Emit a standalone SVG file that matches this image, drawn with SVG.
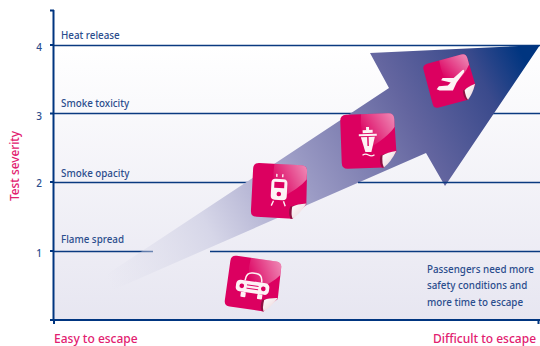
<svg xmlns="http://www.w3.org/2000/svg" xmlns:xlink="http://www.w3.org/1999/xlink" width="540" height="346" viewBox="0 0 540 346">
<style>
.grid{stroke:#0a3a80;stroke-width:1.3;fill:none}
.axis{stroke:#003580;stroke-width:2;fill:none}
.lab{font-family:"Noto Sans","Open Sans",sans-serif;font-size:9.800px;font-weight:500;fill:#2b4d8d}
.num{font-family:"Noto Sans","Open Sans",sans-serif;font-size:10px;font-weight:500;fill:#2b4d8d;text-anchor:middle}
.pink{font-family:"Noto Sans","Open Sans",sans-serif;font-size:12px;font-weight:500;fill:#e2206f}
.ico{fill:#fdf3f5}
</style>
<defs>
<linearGradient id="bg" x1="0" y1="0" x2="0" y2="1"><stop offset="0" stop-color="#fff"/><stop offset="1" stop-color="#e7e6f1"/></linearGradient>
<linearGradient id="arrow" gradientUnits="userSpaceOnUse" x1="110" y1="285" x2="530" y2="70">
<stop offset="0" stop-color="#dcdcea" stop-opacity="0"/>
<stop offset=".24" stop-color="#d6d6e8"/>
<stop offset=".475" stop-color="#9a9ac4"/>
<stop offset=".73" stop-color="#63659f"/>
<stop offset=".9" stop-color="#3a4a8c"/>
<stop offset="1" stop-color="#003580"/>
</linearGradient>
<linearGradient id="gloss" x1="0" y1="0.6" x2="1" y2="0"><stop offset="0" stop-color="#fff" stop-opacity="0"/><stop offset="1" stop-color="#fff" stop-opacity=".55"/></linearGradient>
<linearGradient id="curl" x1="0" y1="0" x2="1" y2="1"><stop offset="0" stop-color="#fff"/><stop offset="1" stop-color="#e9cfd4"/></linearGradient>
<g id="sticker">
<path d="M-27,-21Q-27,-27 -21,-27H21Q27,-27 27,-21L28,12Q20,20 15,27H-21Q-27,27 -27,21Z" fill="#dc0060"/>
<path d="M-6,-27H21Q27,-27 27,-21V-13Q20,-3 -2,9Q-8,-10 -6,-27Z" fill="url(#gloss)"/>
<path d="M28,11Q18,13 12,15Q10,22 13,27L15,27Z" fill="#8e1040"/>
<path d="M28,11Q19,12 14,15Q13,23 15,27Q22,22 28,11Z" fill="url(#curl)"/>
</g>
</defs>
<rect x="54" y="45" width="486" height="275" fill="url(#bg)"/>
<g id="connectors">
<path class="grid" d="M53,45.500H540M53,113.500H540M53,182.500H300M53,251.500H153"/>
<path d="M370,53L540,45L445,186L426,153L24,329L389,88Z" fill="url(#arrow)"/>
<path class="grid" d="M358,182.500H540M210,251.500H540"/>
<path class="axis" d="M53.500,10V320H540M50,10.500H54M50,45H54M50,113.500H54M50,182H54M50,251H54M50,320H54M54,320V324M538.500,320V324"/>
</g>
<g id="car-node" transform="translate(253,284) rotate(8) scale(.95)">
<use xlink:href="#sticker" href="#sticker"/>
<g class="ico" transform="scale(.88)">
<path d="M-10,-3Q-10,-13 -2,-13H2Q10,-13 10,-3" fill="none" stroke="#fdf3f5" stroke-width="1.800"/>
<rect x="-20" y="-3" width="40" height="14" rx="5"/>
<rect x="-13" y="11" width="6" height="6" rx="1"/><rect x="7" y="11" width="6" height="6" rx="1"/>
<circle cx="-13" cy="4" r="2.800" fill="#dc0060"/><circle cx="13" cy="4" r="2.800" fill="#dc0060"/>
<path d="M-7,2H7M-7,6H7" stroke="#dc0060" stroke-width="1.100"/>
</g>
</g>
<g id="train-node" transform="translate(279,191) rotate(3)">
<use xlink:href="#sticker" href="#sticker"/>
<g class="ico">
<rect x="-8" y="-12" width="16" height="21" rx="4"/>
<rect x="-5" y="-9" width="10" height="6" fill="#dc0060"/>
<circle cx="0" cy="3" r="2.300" fill="#dc0060"/>
<path d="M-3,-17V-14M3,-17V-14M-5,10L-7,15M5,10L7,15" stroke="#fdf3f5" stroke-width="1.400"/>
</g>
</g>
<g id="ship-node" transform="translate(368,141) rotate(-2)">
<use xlink:href="#sticker" href="#sticker"/>
<g class="ico">
<path d="M-7,-4H7L3,11H-3Z"/>
<rect x="-9" y="-7" width="18" height="2"/>
<rect x="-5" y="-11" width="10" height="3"/><rect x="-1.500" y="-14" width="3" height="3"/>
<rect x="-.7" y="-4" width="1.400" height="9" fill="#dc0060"/>
<path d="M-6,14Q-3,12 0,14T6,14" fill="none" stroke="#fdf3f5" stroke-width="1.300"/>
</g>
</g>
<g id="plane-node" transform="translate(450,81) rotate(-15) scale(.84)">
<use xlink:href="#sticker" href="#sticker"/>
<path class="ico" transform="rotate(15) scale(.88)" d="M-18,11L-15,7L-3,6L1,2L-12,-1L-10,-4L5,-4L17,-15Q20,-16 19,-12L9,2L4,13L-14,13Z"/>
</g>
<g id="labels">
<text class="lab" x="61" y="39">Heat release</text>
<text class="lab" x="61" y="107">Smoke toxicity</text>
<text class="lab" x="61" y="177">Smoke opacity</text>
<text class="lab" x="61" y="243">Flame spread</text>
<text class="num" x="39" y="51">4</text>
<text class="num" x="39" y="120">3</text>
<text class="num" x="39" y="187">2</text>
<text class="num" x="39" y="257">1</text>
<text class="pink" transform="translate(19,201) rotate(-90)" style="font-size:11.800px">Test severity</text>
<text class="pink" x="54" y="343">Easy to escape</text>
<text class="pink" x="433" y="343">Difficult to escape</text>
<text class="lab" x="427" y="273">Passengers need more</text>
<text class="lab" x="427" y="289">safety conditions and</text>
<text class="lab" x="427" y="306">more time to escape</text>
</g>
</svg>
